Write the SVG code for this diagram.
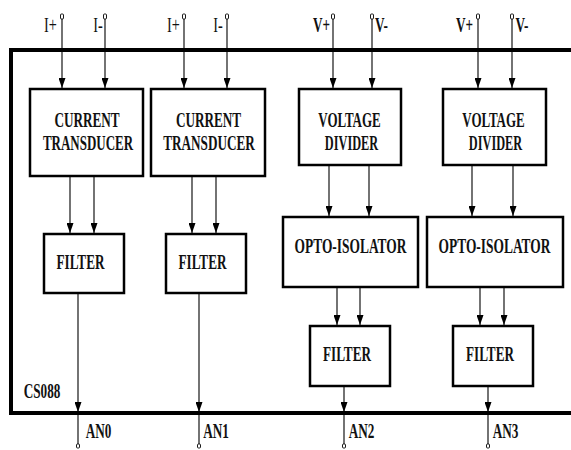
<svg xmlns="http://www.w3.org/2000/svg" width="571" height="450" viewBox="0 0 571 450">
<style>
.box{fill:#fff;stroke:#000;stroke-width:2.5}
.ln{stroke:#000;stroke-width:1.1;fill:none}
.t{font-family:"Liberation Serif","Times New Roman",serif;font-weight:bold;font-size:22px;fill:#111;text-anchor:middle}
.s{font-family:"Liberation Serif","Times New Roman",serif;font-size:22px;fill:#111;text-anchor:middle}
.sb{font-family:"Liberation Serif","Times New Roman",serif;font-weight:bold;font-size:22px;fill:#111;text-anchor:middle}
.term{fill:#fff;stroke:#000;stroke-width:0.9}
</style>
<defs>
<marker id="arr" markerWidth="10" markerHeight="7" refX="10" refY="3.5" orient="auto" markerUnits="userSpaceOnUse">
<path d="M0,0 L10,3.5 L0,7 Z" fill="#000"/>
</marker>
</defs>
<rect width="571" height="450" fill="#fff"/>
<g id="chip">
<path d="M571,50 H11 V413 H571" fill="none" stroke="#000" stroke-width="4"/>
<text class="sb" transform="translate(42,398) scale(0.6,1)">CS088</text>
</g>
<g id="connectors">
<g class="ln" marker-end="url(#arr)">
<line x1="62" y1="19" x2="62" y2="88"/>
<line x1="105" y1="19" x2="105" y2="88"/>
<line x1="184" y1="19" x2="184" y2="88"/>
<line x1="227" y1="19" x2="227" y2="88"/>
<line x1="333" y1="19" x2="333" y2="88"/>
<line x1="372" y1="19" x2="372" y2="88"/>
<line x1="478" y1="19" x2="478" y2="88"/>
<line x1="512" y1="19" x2="512" y2="88"/>
<line x1="70" y1="176" x2="70" y2="233"/>
<line x1="94" y1="176" x2="94" y2="233"/>
<line x1="192" y1="176" x2="192" y2="233"/>
<line x1="216" y1="176" x2="216" y2="233"/>
<line x1="329" y1="165" x2="329" y2="216"/>
<line x1="369" y1="165" x2="369" y2="216"/>
<line x1="472" y1="165" x2="472" y2="216"/>
<line x1="513" y1="165" x2="513" y2="216"/>
<line x1="337" y1="287" x2="337" y2="325"/>
<line x1="360" y1="287" x2="360" y2="325"/>
<line x1="480" y1="287" x2="480" y2="325"/>
<line x1="504" y1="287" x2="504" y2="325"/>
<line x1="78" y1="293" x2="78" y2="412"/>
<line x1="199" y1="293" x2="199" y2="412"/>
<line x1="344" y1="386" x2="344" y2="412"/>
<line x1="488" y1="386" x2="488" y2="412"/>
</g>
<g class="ln">
<line x1="78" y1="412" x2="78" y2="444"/>
<line x1="199" y1="412" x2="199" y2="444"/>
<line x1="344" y1="412" x2="344" y2="444"/>
<line x1="488" y1="412" x2="488" y2="444"/>
</g>
</g>
<g id="terminals">
<rect class="term" x="60.5" y="14" width="3" height="5" rx="1"/>
<rect class="term" x="103.5" y="14" width="3" height="5" rx="1"/>
<rect class="term" x="182.5" y="14" width="3" height="5" rx="1"/>
<rect class="term" x="225.5" y="14" width="3" height="5" rx="1"/>
<rect class="term" x="331.5" y="14" width="3" height="5" rx="1"/>
<rect class="term" x="370.5" y="14" width="3" height="5" rx="1"/>
<rect class="term" x="476.5" y="14" width="3" height="5" rx="1"/>
<rect class="term" x="510.5" y="14" width="3" height="5" rx="1"/>
<rect class="term" x="76.5" y="444" width="3" height="4" rx="1"/>
<rect class="term" x="197.5" y="444" width="3" height="4" rx="1"/>
<rect class="term" x="342.5" y="444" width="3" height="4" rx="1"/>
<rect class="term" x="486.5" y="444" width="3" height="4" rx="1"/>
<text class="s" transform="translate(50.5,32) scale(0.65,1)">I+</text>
<text class="s" transform="translate(98,32) scale(0.65,1)">I-</text>
<text class="s" transform="translate(173.5,32) scale(0.65,1)">I+</text>
<text class="s" transform="translate(218,32) scale(0.65,1)">I-</text>
<text class="sb" transform="translate(321.5,32) scale(0.6,1)">V+</text>
<text class="sb" transform="translate(381.5,32) scale(0.6,1)">V-</text>
<text class="sb" transform="translate(464.5,32) scale(0.6,1)">V+</text>
<text class="sb" transform="translate(522,32) scale(0.6,1)">V-</text>
<text class="sb" transform="translate(98.5,438) scale(0.6,1)">AN0</text>
<text class="sb" transform="translate(216,438) scale(0.6,1)">AN1</text>
<text class="sb" transform="translate(361.5,438) scale(0.6,1)">AN2</text>
<text class="sb" transform="translate(505.5,438) scale(0.6,1)">AN3</text>
</g>
<g id="ct1">
<rect class="box" x="30" y="89" width="113" height="87"/>
<text class="t" transform="translate(87,127) scale(0.6,1)">CURRENT</text>
<text class="t" transform="translate(88,150) scale(0.59,1)">TRANSDUCER</text>
</g>
<g id="ct2">
<rect class="box" x="151" y="89" width="114" height="87"/>
<text class="t" transform="translate(208.5,127) scale(0.6,1)">CURRENT</text>
<text class="t" transform="translate(209,150) scale(0.6,1)">TRANSDUCER</text>
</g>
<g id="filter1">
<rect class="box" x="44" y="234" width="80" height="59"/>
<text class="t" transform="translate(80.5,269) scale(0.6,1)">FILTER</text>
</g>
<g id="filter2">
<rect class="box" x="166" y="234" width="80" height="59"/>
<text class="t" transform="translate(202.5,269) scale(0.6,1)">FILTER</text>
</g>
<g id="vd1">
<rect class="box" x="299" y="89" width="102" height="76"/>
<text class="t" transform="translate(349.5,127) scale(0.59,1)">VOLTAGE</text>
<text class="t" transform="translate(351.5,150) scale(0.56,1)">DIVIDER</text>
</g>
<g id="vd2">
<rect class="box" x="443" y="89" width="103" height="76"/>
<text class="t" transform="translate(493.5,127) scale(0.59,1)">VOLTAGE</text>
<text class="t" transform="translate(495.5,150) scale(0.56,1)">DIVIDER</text>
</g>
<g id="oi1">
<rect class="box" x="283" y="217" width="135" height="70"/>
<text class="t" transform="translate(350.5,253) scale(0.61,1)">OPTO-ISOLATOR</text>
</g>
<g id="oi2">
<rect class="box" x="427" y="217" width="136" height="70"/>
<text class="t" transform="translate(494.5,253) scale(0.61,1)">OPTO-ISOLATOR</text>
</g>
<g id="filter3">
<rect class="box" x="310" y="326" width="80" height="60"/>
<text class="t" transform="translate(347,361) scale(0.6,1)">FILTER</text>
</g>
<g id="filter4">
<rect class="box" x="453" y="326" width="80" height="60"/>
<text class="t" transform="translate(490,361) scale(0.6,1)">FILTER</text>
</g>
</svg>
